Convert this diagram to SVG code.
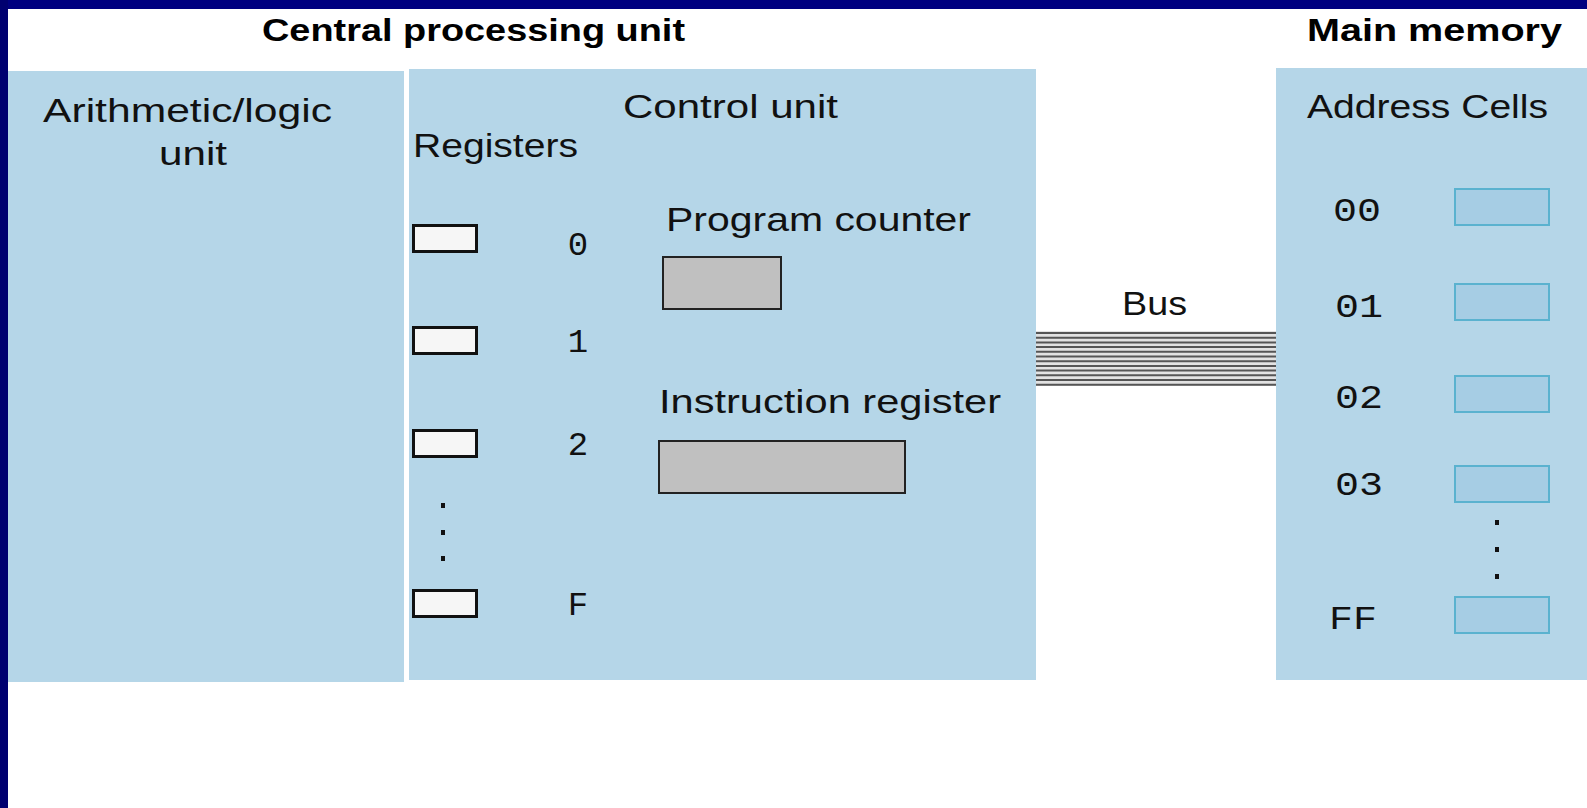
<svg xmlns="http://www.w3.org/2000/svg" width="1587" height="808" viewBox="0 0 1587 808">
<style>
.t{font-family:"Liberation Sans",Arial,sans-serif;font-size:34px;fill:#111}
.b{font-family:"Liberation Sans",Arial,sans-serif;font-size:32px;font-weight:bold;fill:#000}
.m{font-family:"Liberation Mono","Courier New",monospace;fill:#111;text-anchor:middle}
.panel{fill:#b5d6e8}
.reg{fill:#f6f6f6;stroke:#111;stroke-width:3}
.gray{fill:#c0c0c0;stroke:#222;stroke-width:2}
.cell{fill:#a6cde4;stroke:#5ab2cf;stroke-width:2}
.dot{fill:#111}
.wire{stroke:#555;stroke-width:2}
</style>
<rect x="0" y="0" width="1587" height="808" fill="#ffffff"/>
<rect x="0" y="0" width="1587" height="9" fill="#000080"/>
<rect x="0" y="0" width="8" height="808" fill="#000070"/>

<g id="title-cpu"><text class="b" x="262" y="41" textLength="423" lengthAdjust="spacingAndGlyphs">Central processing unit</text></g>
<g id="title-memory"><text class="b" x="1307" y="41" textLength="255" lengthAdjust="spacingAndGlyphs">Main memory</text></g>

<g id="alu">
<rect class="panel" x="8" y="71" width="396" height="611"/>
<text class="t" x="43" y="122" textLength="289" lengthAdjust="spacingAndGlyphs">Arithmetic/logic</text>
<text class="t" x="159" y="165" textLength="68" lengthAdjust="spacingAndGlyphs">unit</text>
</g>

<g id="control-unit">
<rect class="panel" x="409" y="69" width="627" height="611"/>
<text class="t" x="623" y="118" textLength="215" lengthAdjust="spacingAndGlyphs">Control unit</text>
<text class="t" x="413" y="157" textLength="165" lengthAdjust="spacingAndGlyphs">Registers</text>
</g>

<g id="registers">
<rect class="reg" x="413.5" y="225.5" width="63" height="26"/>
<rect class="reg" x="413.5" y="327.5" width="63" height="26"/>
<rect class="reg" x="413.5" y="430.5" width="63" height="26"/>
<rect class="reg" x="413.5" y="590.5" width="63" height="26"/>
<text class="m" x="578" y="255" font-size="34">0</text>
<text class="m" x="578" y="352" font-size="34">1</text>
<text class="m" x="578" y="455" font-size="34">2</text>
<text class="m" x="578" y="615" font-size="34">F</text>
<rect class="dot" x="441" y="503" width="4" height="5"/>
<rect class="dot" x="441" y="530" width="4" height="5"/>
<rect class="dot" x="441" y="556" width="4" height="5"/>
</g>

<g id="program-counter">
<text class="t" x="666" y="231" textLength="305" lengthAdjust="spacingAndGlyphs">Program counter</text>
<rect class="gray" x="663" y="257" width="118" height="52"/>
</g>

<g id="instruction-register">
<text class="t" x="659" y="413" textLength="342" lengthAdjust="spacingAndGlyphs">Instruction register</text>
<rect class="gray" x="659" y="441" width="246" height="52"/>
</g>

<g id="connectors">
<rect x="1036" y="331" width="240" height="55" fill="#e2e2e2"/>
<line class="wire" x1="1036" y1="333" x2="1276" y2="333"/>
<line class="wire" x1="1036" y1="337.7" x2="1276" y2="337.7"/>
<line class="wire" x1="1036" y1="342.4" x2="1276" y2="342.4"/>
<line class="wire" x1="1036" y1="347.1" x2="1276" y2="347.1"/>
<line class="wire" x1="1036" y1="351.8" x2="1276" y2="351.8"/>
<line class="wire" x1="1036" y1="356.5" x2="1276" y2="356.5"/>
<line class="wire" x1="1036" y1="361.2" x2="1276" y2="361.2"/>
<line class="wire" x1="1036" y1="365.9" x2="1276" y2="365.9"/>
<line class="wire" x1="1036" y1="370.6" x2="1276" y2="370.6"/>
<line class="wire" x1="1036" y1="375.3" x2="1276" y2="375.3"/>
<line class="wire" x1="1036" y1="380" x2="1276" y2="380"/>
<line class="wire" x1="1036" y1="384.7" x2="1276" y2="384.7"/>
<text class="t" x="1122" y="315" textLength="65" lengthAdjust="spacingAndGlyphs">Bus</text>
</g>

<g id="main-memory">
<rect class="panel" x="1276" y="68" width="311" height="612"/>
<text class="t" x="1307" y="118" textLength="241" lengthAdjust="spacingAndGlyphs">Address Cells</text>
<rect class="cell" x="1455" y="189" width="94" height="36"/>
<rect class="cell" x="1455" y="284" width="94" height="36"/>
<rect class="cell" x="1455" y="376" width="94" height="36"/>
<rect class="cell" x="1455" y="466" width="94" height="36"/>
<rect class="cell" x="1455" y="597" width="94" height="36"/>
<text class="m" x="1357" y="221" font-size="34" textLength="48" lengthAdjust="spacingAndGlyphs">00</text>
<text class="m" x="1359" y="317" font-size="34" textLength="48" lengthAdjust="spacingAndGlyphs">01</text>
<text class="m" x="1359" y="408" font-size="34" textLength="48" lengthAdjust="spacingAndGlyphs">02</text>
<text class="m" x="1359" y="495" font-size="34" textLength="48" lengthAdjust="spacingAndGlyphs">03</text>
<text class="m" x="1353" y="629" font-size="34" textLength="48" lengthAdjust="spacingAndGlyphs">FF</text>
<rect class="dot" x="1495" y="520" width="4" height="5"/>
<rect class="dot" x="1495" y="547" width="4" height="5"/>
<rect class="dot" x="1495" y="574" width="4" height="5"/>
</g>
</svg>
